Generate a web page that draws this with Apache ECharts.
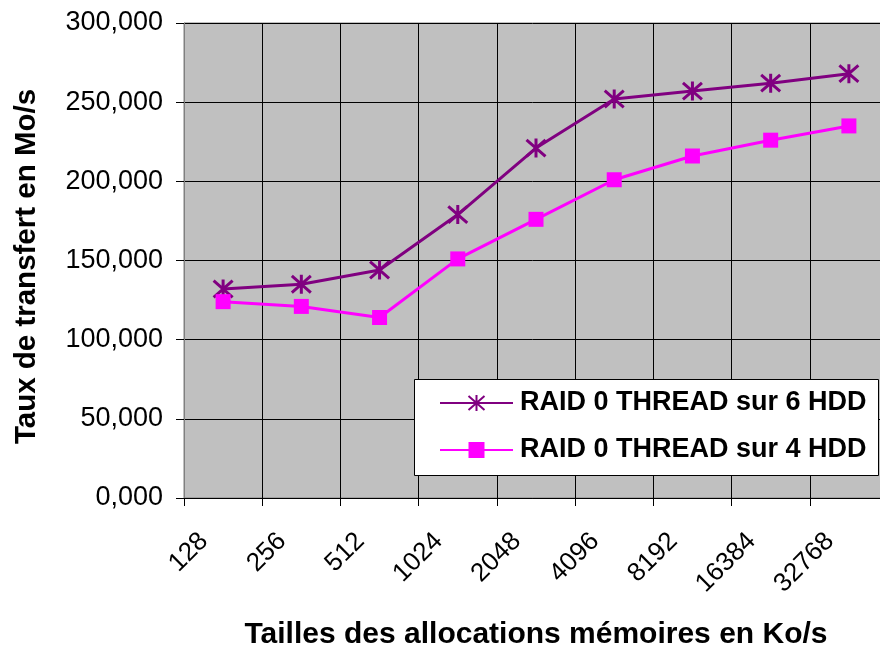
<!DOCTYPE html>
<html>
<head>
<meta charset="utf-8">
<script src="https://cdn.jsdelivr.net/npm/echarts@6/dist/echarts.min.js"></script>
<style>
  html, body { margin: 0; padding: 0; background: #ffffff; }
  #chart { width: 880px; height: 650px; }
</style>
</head>
<body>
<div id="chart"></div>
<script>
// Allocation sizes (Ko) on the category axis
const allocSizes = ['128', '256', '512', '1024', '2048', '4096', '8192', '16384', '32768'];
// Transfer rates in Mo/s
const raid6hdd = [132, 135, 144, 179, 221, 252, 257, 262, 268];
const raid4hdd = [124, 121, 114, 151, 176, 201, 216, 226, 235];
const seriesNames = ['RAID 0 THREAD sur 6 HDD', 'RAID 0 THREAD sur 4 HDD'];
const yTicks = { min: 0, max: 300, interval: 50 };

const FONT = '"Liberation Sans", Arial, sans-serif';
const asterisk = 'path://M0,-8 L0,8 M-7,-7 L7,7 M-7,7 L7,-7';

const chart = echarts.init(document.getElementById('chart'), null, { renderer: 'canvas' });

chart.setOption({
  animation: false,
  backgroundColor: '#ffffff',
  grid: {
    left: 184, top: 23, width: 704, height: 475,
    outerBoundsMode: 'none',
    containLabel: false,
    show: true,
    backgroundColor: '#C0C0C0',
    borderColor: '#808080',
    borderWidth: 1
  },
  graphic: [{
    type: 'rect',
    left: 414, top: 379, z: 50,
    shape: { width: 464, height: 96 },
    style: { fill: '#ffffff', stroke: '#000000', lineWidth: 1 }
  }],
  legend: {
    z: 60,
    orient: 'vertical',
    left: 439, top: 388,
    padding: 0,
    itemGap: 17,
    itemWidth: 73,
    itemHeight: 20,
    textStyle: {
      fontFamily: FONT, fontWeight: 'bold', fontSize: 27, color: '#000',
      lineHeight: 30, padding: [0, 0, 0, 2]
    },
    data: seriesNames
  },
  xAxis: {
    type: 'category',
    data: allocSizes,
    boundaryGap: true,
    name: 'Tailles des allocations mémoires en Ko/s',
    nameLocation: 'middle',
    nameGap: 122,
    nameTextStyle: { fontFamily: FONT, fontWeight: 'bold', fontSize: 30, color: '#000' },
    axisLine: { show: true, lineStyle: { color: '#000', width: 1 } },
    axisTick: { show: true, alignWithLabel: false, length: 8, lineStyle: { color: '#000' } },
    axisLabel: {
      rotate: 45, margin: 20, padding: [0, 27, 0, 0],
      fontFamily: FONT, fontSize: 26, color: '#000', interval: 0
    },
    splitLine: { show: true, interval: 0, lineStyle: { color: '#000', width: 1 } }
  },
  yAxis: {
    type: 'value',
    min: yTicks.min, max: yTicks.max, interval: yTicks.interval,
    name: 'Taux de transfert en Mo/s',
    nameLocation: 'middle',
    nameGap: 142,
    nameTextStyle: {
      fontFamily: FONT, fontWeight: 'bold', fontSize: 29.5, color: '#000',
      padding: [0, 12, 0, 0]
    },
    axisLine: { show: true, lineStyle: { color: '#808080', width: 1 } },
    axisTick: { show: true, length: 8, lineStyle: { color: '#000' } },
    axisLabel: {
      margin: 21, fontFamily: FONT, fontSize: 27, color: '#000',
      formatter: v => v.toFixed(3).replace('.', ',')
    },
    splitLine: { show: true, lineStyle: { color: '#000', width: 1 } }
  },
  series: [
    {
      name: seriesNames[0],
      type: 'line',
      data: raid6hdd,
      symbol: asterisk,
      symbolSize: 19,
      lineStyle: { color: '#800080', width: 3 },
      itemStyle: { color: '#800080', borderColor: '#800080', borderWidth: 3 },
      z: 3
    },
    {
      name: seriesNames[1],
      type: 'line',
      data: raid4hdd,
      symbol: 'rect',
      symbolSize: 15,
      lineStyle: { color: '#FF00FF', width: 3 },
      itemStyle: { color: '#FF00FF', borderColor: '#FF00FF', borderWidth: 0 },
      z: 3
    }
  ]
});
</script>
</body>
</html>
